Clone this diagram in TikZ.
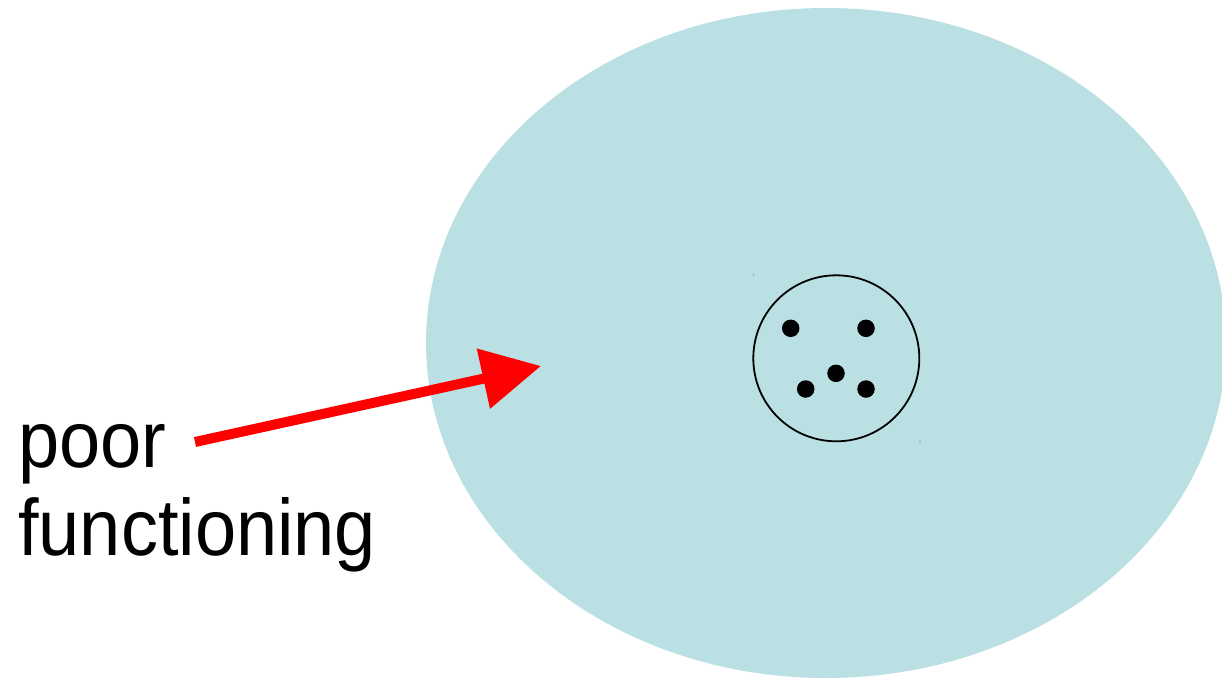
\documentclass[tikz,border=0pt]{standalone}
\usepackage{graphicx}
\usepackage{fontspec}
\setmainfont{Liberation Sans}
\usetikzlibrary{arrows.meta,shapes.geometric}
\definecolor{cellfill}{RGB}{187,224,227}
\definecolor{arrowred}{RGB}{255,0,0}
\newcommand{\narrowtext}[1]{\scalebox{0.925}[1]{#1}}
\tikzset{
  cell/.style={ellipse, fill=cellfill, draw=none, inner sep=0pt, minimum width=800pt, minimum height=670pt},
  nucleus/.style={circle, draw=black, line width=1.8pt, inner sep=0pt, minimum size=166pt},
  chromo/.style={circle, fill=black, inner sep=0pt, minimum size=17.5pt},
  speck/.style={circle, fill=black!60, inner sep=0pt, minimum size=1.2pt},
  label/.style={font=\fontsize{80}{88}\selectfont, anchor=base west, inner sep=0pt},
  pointer/.style={draw=arrowred, line width=10pt, -{Triangle[length=59pt, width=59pt]}}
}
\begin{document}
\begin{tikzpicture}[x=1pt,y=-1pt]
\useasboundingbox (0,0) rectangle (1222,678);
\clip (0,0) rectangle (1222,678);
\node[cell] (cell) at (826,343) {};
\node[nucleus] (nuc) at (836.3,358.3) {};
\node[chromo] (c1) at (790.7,328.3) {};
\node[chromo] (c2) at (866,328.3) {};
\node[chromo] (c3) at (836,373.3) {};
\node[chromo] (c4) at (805.7,389) {};
\node[chromo] (c5) at (866,389) {};
\node[speck] (s1) at (753.5,275) {};
\node[speck] (s2) at (920,441.5) {};
\node[label] (poor) at (18,467) {\narrowtext{poor}};
\node[label] (func) at (18,555) {\narrowtext{functioning}};
\coordinate (from) at (195,442);
\coordinate (tip) at (541,366);
\draw[pointer] (from) -- (tip);
\end{tikzpicture}
\end{document}
